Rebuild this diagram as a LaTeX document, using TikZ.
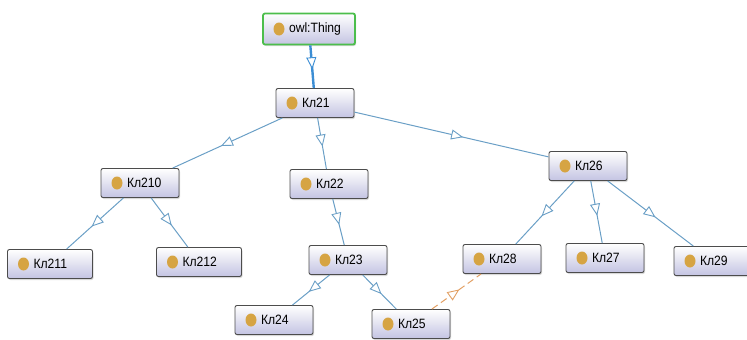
\documentclass[tikz,border=0pt]{standalone}
\usepackage{fontspec}
\setmainfont{Liberation Sans}[FakeStretch=0.9]
\usetikzlibrary{arrows.meta,decorations.markings,shadows}
\definecolor{lineablu}{HTML}{6A9FC6}
\definecolor{bluforte}{HTML}{3C8ED4}
\definecolor{lavanda}{HTML}{C4C4E2}
\definecolor{ocra}{HTML}{D6A443}
\definecolor{arancio}{HTML}{E2A064}
\definecolor{verde}{HTML}{4CBE4C}
\tikzset{
  clase/.style={draw=black!70, line width=0.9pt, rounded corners=2pt,
    top color=white, bottom color=lavanda, text width=78pt, align=left,
    inner xsep=0pt, inner ysep=0pt, minimum height=29pt,
    font=\fontsize{13.5}{15}\selectfont,
    drop shadow={shadow xshift=1pt, shadow yshift=-1.5pt, opacity=0.3},
    path picture={\fill[ocra] ([xshift=16pt]path picture bounding box.west) ellipse (5.5pt and 6.5pt);}},
  ancha/.style={clase, text width=85pt},
  raiz/.style={clase, text width=92pt, minimum height=31pt, draw=verde, line width=1.8pt},
  sub/.style={draw=lineablu, line width=1pt, postaction={decorate},
    decoration={markings, mark=at position 0.56 with
      {\arrow{Triangle[fill=white, length=12pt, width=10pt, line width=0.9pt]}}}},
  prop/.style={sub, draw=arancio, dash pattern=on 7pt off 4pt}
}
\newcommand{\kl}[1]{\hspace*{26pt}#1}
\begin{document}
\begin{tikzpicture}[x=1pt,y=-1pt]
  \useasboundingbox (0,0) rectangle (747,340);
  \node[raiz] (thing) at (309,29) {\kl{owl:Thing}};
  \node[clase] (kl21) at (315,103) {\kl{Кл21}};
  \node[clase] (kl210) at (140,183) {\kl{Кл210}};
  \node[clase] (kl22) at (329,184) {\kl{Кл22}};
  \node[clase] (kl26) at (588,166) {\kl{Кл26}};
  \node[ancha] (kl211) at (50,264) {\kl{Кл211}};
  \node[ancha] (kl212) at (199,262) {\kl{Кл212}};
  \node[clase] (kl23) at (348,260) {\kl{Кл23}};
  \node[clase] (kl28) at (502,259) {\kl{Кл28}};
  \node[clase] (kl27) at (605,258) {\kl{Кл27}};
  \node[clase] (kl29) at (713,261) {\kl{Кл29}};
  \node[clase] (kl24) at (274,320) {\kl{Кл24}};
  \node[clase] (kl25) at (411,324) {\kl{Кл25}};
  \draw[sub, draw=bluforte, line width=2.4pt] (thing) -- (kl21);
  \draw[sub] (kl21) -- (kl210);
  \draw[sub] (kl21) -- (kl22);
  \draw[sub] (kl21) -- (kl26);
  \draw[sub] (kl210) -- (kl211);
  \draw[sub] (kl210) -- (kl212);
  \draw[sub] (kl22) -- (kl23);
  \draw[sub] (kl23) -- (kl24);
  \draw[sub] (kl23) -- (kl25);
  \draw[sub] (kl26) -- (kl28);
  \draw[sub] (kl26) -- (kl27);
  \draw[sub] (kl26) -- (kl29);
  \draw[prop] (kl25) -- (kl28);
\end{tikzpicture}
\end{document}
